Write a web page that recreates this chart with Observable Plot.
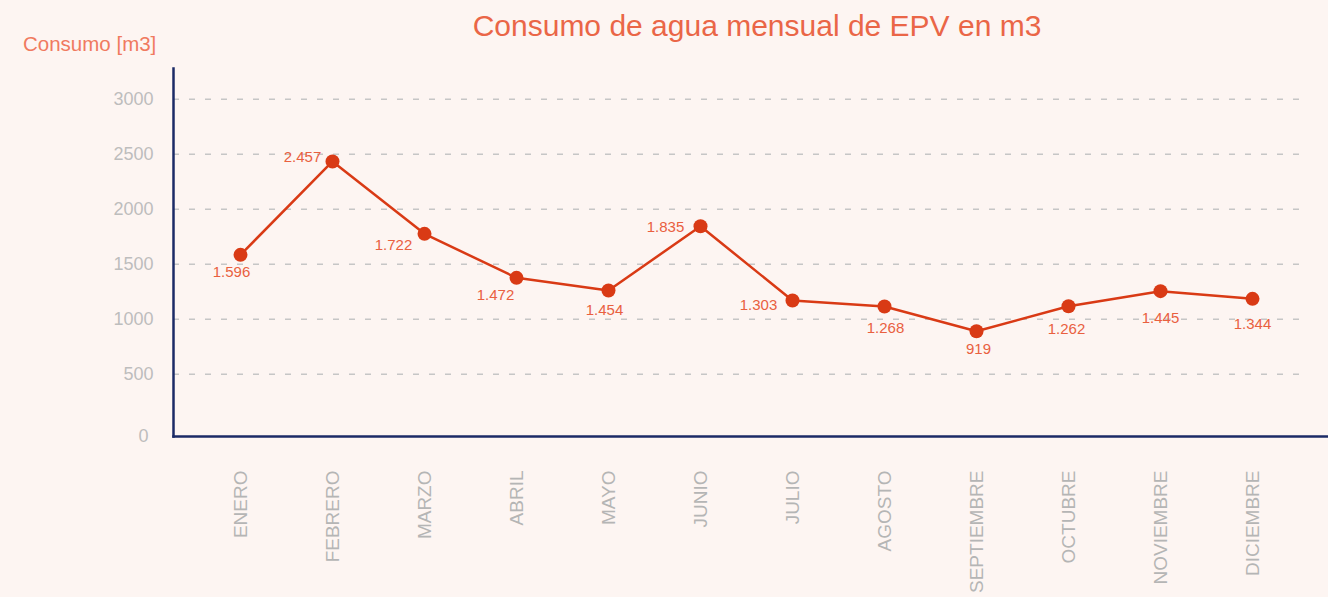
<!DOCTYPE html>
<html>
<head>
<meta charset="utf-8">
<script src="https://cdn.jsdelivr.net/npm/d3@7"></script>
<script src="https://cdn.jsdelivr.net/npm/@observablehq/plot@0.6"></script>
<style>
  html, body { margin: 0; padding: 0; background: #fdf5f2; }
  body { width: 1328px; height: 597px; overflow: hidden; font-family: "Liberation Sans", Arial, sans-serif; }
  #header { position: relative; height: 60px; }
  #title { position: absolute; left: 186px; right: 0; top: 11px; text-align: center; font-size: 30px; line-height: 1; color: #ea6647; white-space: nowrap; }
  #ylabel { position: absolute; left: 23px; top: 34px; font-size: 20.5px; line-height: 1; color: #f07a60; white-space: nowrap; }
  #chart svg { display: block; }
</style>
</head>
<body>
<div id="header">
  <div id="title">Consumo de agua mensual de EPV en m3</div>
  <div id="ylabel">Consumo [m3]</div>
</div>
<div id="chart"></div>
<script>
// Months (categories)
const months = ["ENERO","FEBRERO","MARZO","ABRIL","MAYO","JUNIO","JULIO","AGOSTO","SEPTIEMBRE","OCTUBRE","NOVIEMBRE","DICIEMBRE"];
// Plotted values (as drawn in the picture)
const values = [1585, 2434, 1776, 1376, 1261, 1845, 1170, 1115, 891, 1118, 1255, 1185];
// Printed data labels
const labelValues = [1596, 2457, 1722, 1472, 1454, 1835, 1303, 1268, 919, 1262, 1445, 1344];
// Y tick labels
const yTicks = [500, 1000, 1500, 2000, 2500, 3000];

// Label placement offsets (styling, pixels relative to each point)
const labelDx = [-9, -30, -31, -21, -4, -35, -34, 1, 2, -2, 0, 0];
const labelDy = [17, -4, 11, 17, 20, 1, 5, 22, 18, 23, 27, 25];

const es = d3.formatLocale({decimal: ",", thousands: ".", grouping: [3], currency: ["", ""]});
const fmt = es.format(",d");

const data = months.map((m, i) => ({month: m, value: values[i], label: fmt(labelValues[i])}));

const font = "Liberation Sans, Arial, sans-serif";
const lineColor = "#d93a15";
const axisColor = "#1b2a66";

const yMin = -66.4, yMax = 3279;

const chart = Plot.plot({
  width: 1328,
  height: 537,
  marginLeft: 173,
  marginRight: 0,
  marginTop: 8,
  marginBottom: 161,
  style: {background: "transparent", fontFamily: font},
  x: {type: "point", domain: months, range: [240, 1252], padding: 0},
  y: {domain: [yMin, yMax]},
  marks: [
    Plot.ruleY(yTicks, {stroke: "#c6c6c6", strokeWidth: 1.5, strokeDasharray: "6,10", insetRight: 20}),
    Plot.axisY({ticks: yTicks, tickSize: 0, tickPadding: 20, fontSize: 18, fill: "#bdbdbd", label: null, tickFormat: d => String(d)}),
    Plot.text([yMin], {y: d => d, frameAnchor: "left", text: () => "0", dx: -25, textAnchor: "end", fontSize: 18, fill: "#bdbdbd"}),
    Plot.axisX({tickSize: 0, tickPadding: 34, tickRotate: -90, fontSize: 19, fill: "#b5b5b5", label: null}),
    Plot.line(data, {x: "month", y: "value", stroke: lineColor, strokeWidth: 2.5}),
    Plot.dot(data, {x: "month", y: "value", r: 7, fill: lineColor, stroke: "none"}),
    ...data.map((d, i) => Plot.text([d], {x: "month", y: "value", text: "label", dx: labelDx[i], dy: labelDy[i], fontSize: 15, fill: "#e9603f"})),
    Plot.frame({anchor: "left", stroke: axisColor, strokeWidth: 2.5}),
    Plot.frame({anchor: "bottom", stroke: axisColor, strokeWidth: 2.5})
  ]
});
document.getElementById("chart").appendChild(chart);
</script>
</body>
</html>
